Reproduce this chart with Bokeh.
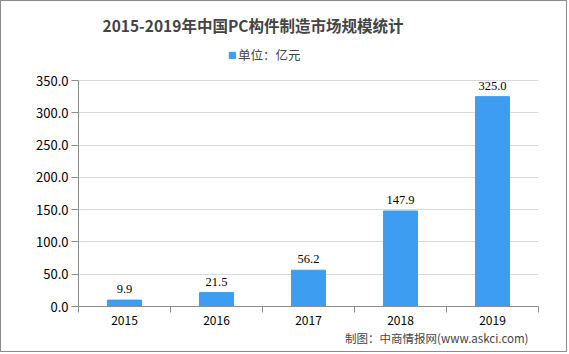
from bokeh.plotting import figure
from bokeh.models import (ColumnDataSource, FixedTicker, Legend, LegendItem, Title, LabelSet,
                          Range1d, NumeralTickFormatter)
from bokeh.embed import file_html
from bokeh.resources import INLINE

years = ["2015", "2016", "2017", "2018", "2019"]
values = [9.9, 21.5, 56.2, 147.9, 325.0]
y_ticks = [0, 50, 100, 150, 200, 250, 300, 350]
title_text = "2015-2019年中国PC构件制造市场规模统计"
legend_text = "单位：亿元"
source_text = "制图：中商情报网(www.askci.com)"

FONT = "Noto Sans CJK SC"
BAR = "#3d9df0"

xs = [i + 0.5 for i in range(len(years))]
src = ColumnDataSource(dict(x=xs, top=values, label=["%.1f" % v for v in values]))

# frame extends above the 350 line so that the legend sits inside it
p = figure(width=567, height=352, output_backend="svg", toolbar_location=None,
           x_range=Range1d(0, len(years)), y_range=Range1d(0, 413.5), title=None,
           min_border_left=77, min_border_right=30, min_border_bottom=47, min_border_top=38)
p.styles = {"border": "1px solid #8c8c8c"}
p.outline_line_color = None
p.background_fill_color = "white"

r = p.vbar(x="x", top="top", width=0.37, color=BAR, source=src)

p.add_layout(LabelSet(x="x", y="top", text="label", source=src, text_align="center",
                      text_baseline="bottom", y_offset=7, text_font=FONT,
                      text_font_size="12.5px", text_color="#000000"))

# axes
p.xgrid.visible = False
p.ygrid.grid_line_color = "#d9d9d9"
p.ygrid.ticker = FixedTicker(ticks=y_ticks)

p.yaxis.ticker = FixedTicker(ticks=y_ticks)
p.yaxis.bounds = (y_ticks[0], y_ticks[-1])
p.yaxis.formatter = NumeralTickFormatter(format="0.0")
p.yaxis.axis_line_color = "#8c8c8c"
p.yaxis.major_tick_line_color = "#8c8c8c"
p.yaxis.major_tick_out = 7
p.yaxis.major_tick_in = 0
p.yaxis.minor_tick_line_color = None
p.yaxis.major_label_text_font = FONT
p.yaxis.major_label_text_font_size = "13px"
p.yaxis.major_label_text_color = "#000000"
p.yaxis.major_label_standoff = 3

p.xaxis.ticker = FixedTicker(ticks=xs, minor_ticks=list(range(len(years) + 1)))
p.xaxis.major_label_overrides = {x: y for x, y in zip(xs, years)}
p.xaxis.axis_line_color = "#8c8c8c"
p.xaxis.major_tick_line_color = None
p.xaxis.minor_tick_line_color = "#8c8c8c"
p.xaxis.minor_tick_out = 6
p.xaxis.minor_tick_in = 0
p.xaxis.major_label_text_font = FONT
p.xaxis.major_label_text_font_size = "12px"
p.xaxis.major_label_text_color = "#000000"
p.xaxis.major_label_standoff = 3

leg = Legend(items=[LegendItem(label=legend_text, renderers=[r])],
             location=(150, 242), orientation="horizontal",
             label_text_font=FONT, label_text_font_size="12.5px",
             glyph_width=8, glyph_height=8, label_standoff=2,
             padding=0, margin=0, border_line_color=None, background_fill_alpha=0)
p.add_layout(leg, "center")

p.add_layout(Title(text=title_text, align="left", offset=24, text_font=FONT,
                   text_font_size="15.5px", text_font_style="bold", standoff=8), "above")

# source note
p.add_layout(Title(text=source_text, align="right", text_font=FONT, text_font_size="11.5px",
                   text_font_style="normal", offset=10, standoff=0), "below")

open("out.html", "w").write(file_html(p, INLINE))
